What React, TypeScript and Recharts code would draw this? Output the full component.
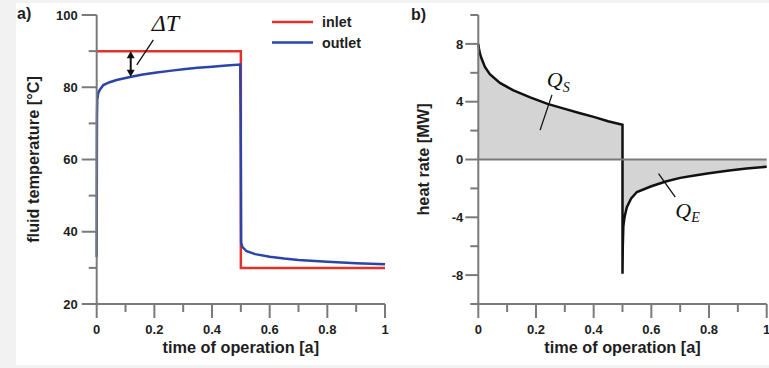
import React from 'react';
import { ComposedChart, Line, Area, XAxis, YAxis, ReferenceLine, ReferenceDot, Legend } from 'recharts';

// ---------- data ----------
const timeTicks = [0, 0.1, 0.2, 0.3, 0.4, 0.5, 0.6, 0.7, 0.8, 0.9, 1];
const timeLabels = [0, 0.2, 0.4, 0.6, 0.8, 1];
const tempTicks = [20, 30, 40, 50, 60, 70, 80, 90, 100];
const tempLabels = [20, 40, 60, 80, 100];
const heatTicks = [-10, -8, -6, -4, -2, 0, 2, 4, 6, 8, 10];
const heatLabels = [-8, -4, 0, 4, 8];

const inletTime = [0, 0.5, 0.5, 1];
const inletTemp = [90, 90, 30, 30];

const outletTime = [0, 0.0005, 0.001, 0.002, 0.005, 0.01, 0.023, 0.045, 0.069, 0.12, 0.16, 0.208, 0.26, 0.3, 0.35, 0.4, 0.45, 0.498, 0.5, 0.501, 0.505, 0.52, 0.55, 0.6, 0.65, 0.7, 0.8, 0.9, 1];
const outletTemp = [33, 60, 72, 76.5, 78.3, 79.2, 80.6, 81.4, 82, 82.9, 83.5, 84.1, 84.6, 85.0, 85.4, 85.7, 86.0, 86.3, 60, 37, 35.8, 34.6, 33.8, 33.1, 32.6, 32.2, 31.7, 31.3, 31];

const heatTime = [0, 0.002, 0.006, 0.012, 0.023, 0.04, 0.075, 0.12, 0.18, 0.24, 0.3, 0.353, 0.4, 0.45, 0.5, 0.5, 0.501, 0.503, 0.507, 0.515, 0.53, 0.55, 0.6, 0.65, 0.7, 0.75, 0.8, 0.87, 0.93, 1];
const heatRate = [8.0, 7.7, 7.3, 6.95, 6.4, 5.9, 5.3, 4.8, 4.3, 3.85, 3.5, 3.2, 2.95, 2.65, 2.4, -7.9, -6.0, -4.6, -4.0, -3.3, -2.7, -2.25, -1.85, -1.52, -1.27, -1.1, -0.95, -0.76, -0.62, -0.5];

const inletData = inletTime.map((t, i) => ({ t, v: inletTemp[i] }));
const outletData = outletTime.map((t, i) => ({ t, v: outletTemp[i] }));
const heatData = heatTime.map((t, i) => ({ t, q: heatRate[i] }));

// ---------- styles ----------
const SANS = '"Liberation Sans", Arial, Helvetica, sans-serif';
const SERIF = '"Liberation Serif", "Times New Roman", serif';
const AXIS = '#7a7a7a';
const TEXT = '#1e1e1e';
const RED = '#e3322b';
const BLUE = '#2a44a8';

const isIn = (arr: number[], v: number) => arr.some((a) => Math.abs(a - v) < 1e-9);

const makeXTick = (labels: number[]) => (props: any) => {
  const { x, y, payload } = props;
  const major = isIn(labels, payload.value);
  return (
    <g>
      <line x1={x} x2={x} y1={y} y2={y + (major ? 14 : 8)} stroke={AXIS} strokeWidth={2} />
      {major && (
        <text x={x} y={y + 30} textAnchor="middle" fontFamily={SANS} fontWeight="bold" fontSize={13} fill={TEXT}>
          {String(payload.value)}
        </text>
      )}
    </g>
  );
};

const makeYTick = (labels: number[], majorLen: number, gap: number) => (props: any) => {
  const { x, y, payload } = props;
  const major = isIn(labels, payload.value);
  return (
    <g>
      <line x1={x - (major ? majorLen : 8)} x2={x} y1={y} y2={y} stroke={AXIS} strokeWidth={2} />
      {major && (
        <text x={x - majorLen - gap} y={y + 4.6} textAnchor="end" fontFamily={SANS} fontWeight="bold" fontSize={13} fill={TEXT}>
          {String(payload.value)}
        </text>
      )}
    </g>
  );
};

const LegendBox = (props: any) => {
  const items = props.payload || [];
  return (
    <svg width={110} height={46}>
      {items.map((it: any, i: number) => (
        <g key={i}>
          <line x1={2} x2={43} y1={10 + i * 20.6} y2={10 + i * 20.6} stroke={it.color} strokeWidth={2.5} />
          <text x={52} y={15 + i * 20.6} fontFamily={SANS} fontWeight="bold" fontSize={14.3} fill={TEXT}>
            {it.value}
          </text>
        </g>
      ))}
    </svg>
  );
};

const leader = (p: any) => (
  <line x1={p.x1} y1={p.y1} x2={p.x2} y2={p.y2} stroke="#111" strokeWidth={1.3} />
);

const doubleArrow = (p: any) => {
  const { x1, y1, x2, y2 } = p;
  const h = 7;
  const w = 4;
  return (
    <g>
      <line x1={x1} y1={y1 + h - 1} x2={x2} y2={y2 - h + 1} stroke="#111" strokeWidth={2} />
      <polygon points={`${x1},${y1} ${x1 - w},${y1 + h} ${x1 + w},${y1 + h}`} fill="#111" />
      <polygon points={`${x2},${y2} ${x2 - w},${y2 - h} ${x2 + w},${y2 - h}`} fill="#111" />
    </g>
  );
};

const mathLabel = (main: string, sub: string, size: number, subSize: number, subDy: number) => (p: any) => (
  <text x={p.cx} y={p.cy} fontFamily={SERIF} fontStyle="italic" fontSize={size} fill="#111">
    {main}
    {sub && (
      <tspan fontSize={subSize} dy={subDy}>
        {sub}
      </tspan>
    )}
  </text>
);

export default function App() {
  return (
    <div style={{ position: 'absolute', left: 0, top: 0, width: 769, height: 368, background: '#f2f2f2', overflow: 'hidden' }}>
      <div style={{ position: 'absolute', left: 16, top: 3, width: 753, height: 362, background: '#ffffff' }} />

      {/* panel a */}
      <div style={{ position: 'absolute', left: 0, top: 0 }}>
        <ComposedChart width={390} height={368} margin={{ top: 15, right: 5, bottom: 0, left: 0 }}>
          <XAxis
            type="number"
            dataKey="t"
            domain={[0, 1]}
            ticks={timeTicks}
            interval={0}
            tickSize={0}
            tickMargin={0}
            height={64}
            tickLine={false}
            axisLine={{ stroke: AXIS, strokeWidth: 2 }}
            tick={makeXTick(timeLabels)}
            label={{ value: 'time of operation [a]', position: 'center', dy: 11, style: { fontFamily: SANS, fontWeight: 'bold', fontSize: 16.3, fill: TEXT } }}
          />
          <YAxis
            type="number"
            domain={[20, 100]}
            ticks={tempTicks}
            interval={0}
            tickSize={0}
            tickMargin={0}
            width={96.7}
            tickLine={false}
            axisLine={{ stroke: AXIS, strokeWidth: 2 }}
            tick={makeYTick(tempLabels, 15, 4)}
            label={{ value: 'fluid temperature [°C]', angle: -90, position: 'center', dx: -15.5, style: { fontFamily: SANS, fontWeight: 'bold', fontSize: 16.3, fill: TEXT } }}
          />
          <Line data={inletData} dataKey="v" name="inlet" type="linear" stroke={RED} strokeWidth={2.5} dot={false} activeDot={false} isAnimationActive={false} />
          <Line data={outletData} dataKey="v" name="outlet" type="linear" stroke={BLUE} strokeWidth={2.5} dot={false} activeDot={false} isAnimationActive={false} />
          <ReferenceLine segment={[{ x: 0.118, y: 90 }, { x: 0.118, y: 82.9 }]} shape={doubleArrow} />
          <ReferenceLine segment={[{ x: 0.1965, y: 93.1 }, { x: 0.139, y: 86.2 }]} shape={leader} />
          <ReferenceDot x={0.191} y={95.65} r={0} shape={mathLabel('ΔT', '', 24, 0, 0)} />
          <Legend layout="horizontal" verticalAlign="middle" align="center" wrapperStyle={{ left: 270, top: 12, width: 110, height: 46 }} content={LegendBox} />
        </ComposedChart>
      </div>

      {/* panel b */}
      <div style={{ position: 'absolute', left: 390, top: 0 }}>
        <ComposedChart width={379} height={368} margin={{ top: 15, right: 2.3, bottom: 0, left: 0 }}>
          <XAxis
            type="number"
            dataKey="t"
            domain={[0, 1]}
            ticks={timeTicks}
            interval={0}
            tickSize={0}
            tickMargin={0}
            height={64}
            tickLine={false}
            axisLine={{ stroke: AXIS, strokeWidth: 2 }}
            tick={makeXTick(timeLabels)}
            label={{ value: 'time of operation [a]', position: 'center', dy: 11, style: { fontFamily: SANS, fontWeight: 'bold', fontSize: 16.3, fill: TEXT } }}
          />
          <YAxis
            type="number"
            domain={[-10, 10]}
            ticks={heatTicks}
            interval={0}
            tickSize={0}
            tickMargin={0}
            width={88.3}
            tickLine={false}
            axisLine={{ stroke: AXIS, strokeWidth: 2 }}
            tick={makeYTick(heatLabels, 13, 2)}
            label={{ value: 'heat rate [MW]', angle: -90, position: 'center', dx: -11, style: { fontFamily: SANS, fontWeight: 'bold', fontSize: 16.3, fill: TEXT } }}
          />
          <Area data={heatData} dataKey="q" type="linear" baseValue={0} fill="#d4d4d4" fillOpacity={1} stroke="#111" strokeWidth={2.5} dot={false} activeDot={false} isAnimationActive={false} />
          <ReferenceLine y={0} stroke={AXIS} strokeWidth={2} />
          <ReferenceLine segment={[{ x: 0.2554, y: 4.47 }, { x: 0.2142, y: 2.03 }]} shape={leader} />
          <ReferenceLine segment={[{ x: 0.625, y: -0.97 }, { x: 0.683, y: -2.6 }]} shape={leader} />
          <ReferenceDot x={0.2375} y={5.0} r={0} shape={mathLabel('Q', 'S', 22, 14, 5)} />
          <ReferenceDot x={0.683} y={-4.08} r={0} shape={mathLabel('Q', 'E', 22, 14, 4)} />
        </ComposedChart>
      </div>

      <svg style={{ position: 'absolute', left: 0, top: 0 }} width={769} height={368} pointerEvents="none">
        <text x={17} y={19} fontFamily={SANS} fontWeight="bold" fontSize={16} fill={TEXT}>a)</text>
        <text x={411} y={20} fontFamily={SANS} fontWeight="bold" fontSize={16} fill={TEXT}>b)</text>
      </svg>
    </div>
  );
}
